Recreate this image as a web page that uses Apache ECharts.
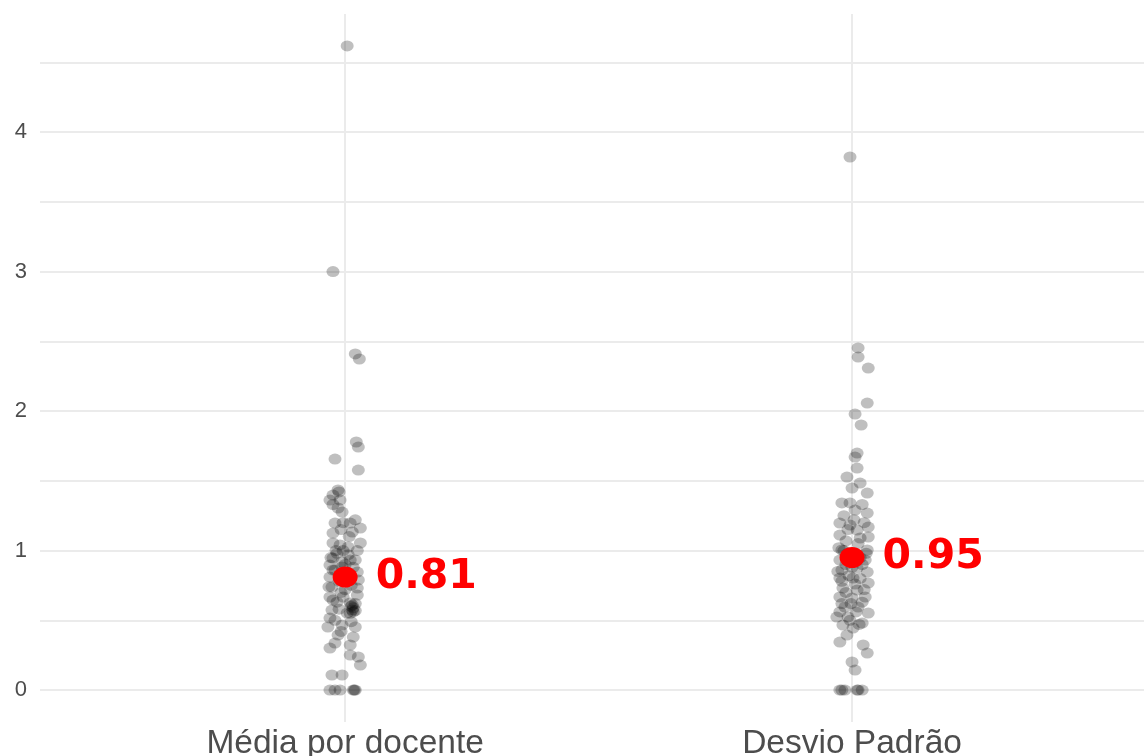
<!DOCTYPE html>
<html>
<head>
<meta charset="utf-8">
<script src="https://cdn.jsdelivr.net/npm/echarts@6/dist/echarts.min.js"></script>
<style>
html, body { margin: 0; padding: 0; background: #fff; }
#chart { width: 1144px; height: 756px; }
</style>
</head>
<body>
<div id="chart"></div>
<script>
// categorias e escalas
var categories = ['Média por docente', 'Desvio Padrão'];
var yLabelTicks = [0, 1, 2, 3, 4];
var yGridTicks = [0, 0.5, 1, 1.5, 2, 2.5, 3, 3.5, 4, 4.5];

// Média por docente (valor + deslocamento do jitter, em unidades da categoria)
var mediaValues = [4.617, 3.00, 2.409, 2.373, 1.778, 1.742, 1.656, 1.577, 1.434, 1.398,
  1.362, 1.362, 1.305, 1.276, 1.197, 1.197, 1.161, 1.133, 1.125, 1.054,
  1.054, 1.025, 0.946, 0.932, 0.932, 0.896, 0.882, 0.846, 0.810, 0.789,
  0.738, 0.731, 0.667, 0.667, 0.681, 0.645, 0.624, 0.573, 0.573, 0.552,
  0.516, 0.452, 0.466, 0.452, 0.394, 0.337, 0.301, 0.323, 0.251, 0.237,
  0.179, 0.108, 0.108, 0, 0, 0, 0, 0, 0.61, 0.59,
  0.55, 0.57, 1.04, 1.00, 0.98, 0.97, 0.92, 0.90, 0.88, 0.86,
  0.84, 0.78, 0.75, 0.70, 0.72, 0.62, 0.63, 0.58, 0.50, 0.49,
  0.42, 0.38, 0.86, 0.95, 0.74, 1.10, 1.15, 1.22, 1.00, 1.00,
  1.20, 1.33, 1.42, 0, 0.60, 0.56];
var mediaJitter = [0.004, -0.024, 0.020, 0.028, 0.022, 0.026, -0.020, 0.026, -0.014, -0.024,
  -0.030, -0.010, -0.014, -0.006, -0.020, 0.010, 0.030, 0.014, -0.024, 0.030,
  -0.024, 0.006, -0.024, 0.010, 0.020, -0.030, -0.006, 0.024, -0.030, 0.026,
  -0.026, 0.024, -0.030, -0.004, 0.024, -0.024, 0.010, 0.014, -0.026, 0.004,
  -0.030, -0.034, -0.006, 0.020, -0.014, -0.020, -0.030, 0.010, 0.010, 0.026,
  0.030, -0.026, -0.006, -0.030, -0.020, -0.010, 0.016, 0.020, 0.014, 0.016,
  0.010, 0.020, -0.010, -0.004, -0.016, 0.006, -0.006, 0, 0.016, -0.020,
  0.004, -0.012, 0.012, -0.008, 0, 0.020, -0.016, -0.012, -0.020, 0.012,
  -0.008, 0.016, -0.024, -0.028, -0.032, 0.008, -0.008, 0.020, -0.018, 0.024,
  -0.004, -0.024, -0.012, 0.018, 0.012, 0.016];

// Desvio Padrão
var desvioValues = [3.821, 2.452, 2.387, 2.308, 2.057, 1.978, 1.900, 1.699, 1.670, 1.591,
  1.527, 1.484, 1.448, 1.412, 1.341, 1.341, 1.290, 1.269, 1.197, 1.183,
  1.147, 1.168, 1.111, 1.090, 1.097, 1.004, 1.004, 0.932, 0.932, 0.860,
  0.874, 0.846, 0.803, 0.803, 0.767, 0.731, 0.717, 0.667, 0.660, 0.667,
  0.595, 0.595, 0.523, 0.523, 0.552, 0.466, 0.480, 0.444, 0.394, 0.344,
  0.323, 0.265, 0.201, 0.143, 0, 0, 0, 0, 1.00, 0.98,
  0.96, 0.95, 0.90, 0.88, 0.90, 0.82, 0.80, 0.78, 0.76, 0.72,
  0.70, 0.62, 0.63, 0.62, 0.56, 0.50, 0.47, 0.56, 1.05, 1.07,
  1.22, 1.25, 1.33, 1.15, 1.20, 0.85, 1.02, 0.98, 0, 0];
var desvioJitter = [-0.004, 0.012, 0.012, 0.032, 0.030, 0.006, 0.018, 0.010, 0.006, 0.010,
  -0.010, 0.016, 0, 0.030, -0.020, -0.004, 0.006, 0.030, -0.024, -0.004,
  0.010, 0.032, -0.024, 0.016, 0.032, -0.020, 0.030, -0.024, 0.026, -0.020,
  0.010, 0.030, -0.024, 0.002, 0.032, -0.018, 0.010, -0.024, 0, 0.026,
  -0.014, 0.012, -0.030, -0.008, 0.032, -0.018, 0.020, 0.002, -0.010, -0.024,
  0.022, 0.030, 0, 0.006, -0.024, -0.014, 0.010, 0.020, -0.016, -0.008,
  0.008, 0.016, -0.012, 0, 0.020, -0.006, 0.016, -0.020, 0.006, 0.024,
  -0.012, -0.002, 0.020, -0.020, 0.008, -0.004, 0.014, -0.024, 0.012, -0.012,
  0.004, -0.016, 0.020, -0.008, 0.024, -0.028, -0.026, 0.028, 0.012, -0.020];

// médias (ponto vermelho + rótulo)
var means = [0.81, 0.95];

function buildPoints(catIndex, values, jitter) {
  var pts = [];
  for (var i = 0; i < values.length; i++) {
    pts.push([catIndex + 1 + jitter[i], values[i]]);
  }
  return pts;
}

var chart = echarts.init(document.getElementById('chart'));
var option = {
  animation: false,
  backgroundColor: '#ffffff',
  grid: { left: 40, right: 0, top: 14, bottom: 34, outerBoundsMode: 'none' },
  xAxis: {
    type: 'value',
    min: 0.398,
    max: 2.576,
    axisLine: { show: false },
    axisTick: { show: false, customValues: [1, 2] },
    splitLine: { show: true, lineStyle: { color: '#ebebeb', width: 2 } },
    axisLabel: {
      customValues: [1, 2],
      formatter: function (v) { return categories[Math.round(v) - 1]; },
      fontFamily: 'Liberation Sans, Arial, sans-serif',
      fontSize: 33.5,
      color: '#4d4d4d',
      margin: 5
    }
  },
  yAxis: {
    type: 'value',
    min: -0.229,
    max: 4.846,
    axisLine: { show: false },
    axisTick: { show: false, customValues: yGridTicks },
    splitLine: { show: true, lineStyle: { color: '#ebebeb', width: 2 } },
    axisLabel: {
      customValues: yLabelTicks,
      fontFamily: 'Liberation Sans, Arial, sans-serif',
      fontSize: 22,
      color: '#4d4d4d',
      margin: 13
    }
  },
  series: [
    {
      type: 'scatter',
      symbolSize: [13, 11],
      itemStyle: { color: 'rgba(0,0,0,0.25)', opacity: 1 },
      data: buildPoints(0, mediaValues, mediaJitter)
    },
    {
      type: 'scatter',
      symbolSize: [13, 11],
      itemStyle: { color: 'rgba(0,0,0,0.25)', opacity: 1 },
      data: buildPoints(1, desvioValues, desvioJitter)
    },
    {
      type: 'scatter',
      symbolSize: [25, 21],
      itemStyle: { color: '#ff0000', opacity: 1 },
      label: {
        show: true,
        position: 'right',
        distance: 18,
        formatter: function (p) { return p.value[1].toFixed(2); },
        fontFamily: 'DejaVu Sans',
        fontWeight: 'bold',
        fontSize: 41,
        color: '#ff0000'
      },
      data: means.map(function (m, i) { return [i + 1, m]; })
    }
  ]
};
chart.setOption(option);
</script>
</body>
</html>
